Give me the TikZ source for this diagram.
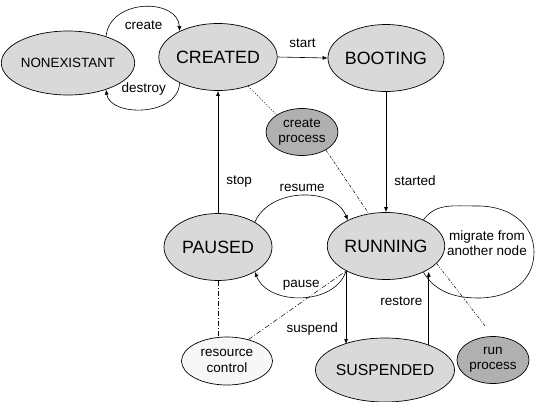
\documentclass[tikz,border=0pt]{standalone}
\usepackage{fontspec}
\setmainfont{Liberation Sans}
\usetikzlibrary{arrows.meta,shapes.geometric}
\definecolor{ink}{HTML}{000000}
\definecolor{statefill}{HTML}{D9D9D9}
\definecolor{procfill}{HTML}{B0B0B0}
\definecolor{ctrlfill}{HTML}{F7F7F7}

\begin{document}
\begin{tikzpicture}[
  x=1pt, y=-1pt,
  st/.style={ellipse, draw=ink, fill=statefill, line width=0.7pt, inner sep=0pt,
    minimum width=108pt, minimum height=67pt, font=\fontsize{17.8}{20}\selectfont},
  proc/.style={ellipse, draw=ink, fill=procfill, line width=0.7pt, inner sep=0pt,
    minimum width=72pt, minimum height=47pt, align=center, font=\fontsize{13.5}{15.5}\selectfont},
  ctrl/.style={proc, fill=ctrlfill, minimum width=91pt, minimum height=48pt},
  lbl/.style={inner sep=2pt, font=\fontsize{13.5}{15.5}\selectfont},
  trans/.style={draw=ink, line width=0.6pt, -{Latex[length=5pt,width=4pt]}},
  dotlink/.style={draw=ink, line width=0.5pt, dash pattern=on 1pt off 1.5pt},
  dashdot/.style={draw=ink, line width=0.5pt, dash pattern=on 5pt off 2pt on 1pt off 2pt},
  finedash/.style={draw=ink, line width=0.5pt, dash pattern=on 3pt off 1.5pt on 1pt off 1.5pt},
  dashdotdot/.style={draw=ink, line width=0.5pt, dash pattern=on 3pt off 1.5pt on 1pt off 1.5pt on 1pt off 1.5pt}
]
\useasboundingbox (0,0) rectangle (539,402);

% states
\node[st, minimum width=110pt, minimum height=64pt, font=\fontsize{13.4}{15}\selectfont] (nonex) at (68,63) {NONEXISTANT};
\node[st] (created) at (218,57) {CREATED};
\node[st] (booting) at (386,58) {BOOTING};
\node[st] (paused) at (218,247) {PAUSED};
\node[st] (running) at (386,246) {RUNNING};
\node[st, minimum width=106pt, minimum height=64pt, font=\fontsize{15.8}{18}\selectfont] (suspended) at (385,370) {SUSPENDED};

% actions
\node[proc] (createproc) at (302,132) {create\\process};
\node[proc] (runproc) at (493,360) {run\\process};
\node[ctrl] (rescontrol) at (227,361) {resource\\control};
\node[lbl, align=center] (migrate) at (487,243) {migrate from\\another node};

% transitions
\draw[trans] (nonex.35) .. controls (110,-2) and (178,-2) .. (created.146)
  node[lbl, midway, below=12pt] {create};
\draw[trans] (created.214) .. controls (178,117) and (110,117) .. (nonex.-35)
  node[lbl, midway, above=12pt] {destroy};
\draw[trans] (created.east) -- (booting.west) node[lbl, midway, above=8pt] {start};
\draw[trans] (booting.south) -- (running.north) node[lbl, pos=0.74, right=6pt] {started};
\draw[trans] (paused.north) -- (created.south) node[lbl, pos=0.26, right=6pt] {stop};
\draw[trans] (paused.34) .. controls (270,187) and (335,187) .. (running.146)
  node[lbl, midway, above=2pt] {resume};
\draw[trans] (running.212) .. controls (335,306) and (268,306) .. (paused.-34)
  node[lbl, midway, above=5pt] {pause};
\draw[trans] (running.212) -- (running.212 |- suspended.148) node[lbl, pos=0.8, left=6pt] {suspend};
\draw[trans] (suspended.30) -- (suspended.30 |- running.-34) node[lbl, pos=0.6, left=4pt] {restore};
\draw[draw=ink, line width=0.6pt] (running.35) .. controls (436,203) and (452,206) .. (478,206)
  .. controls (512,206) and (534,226) .. (534,252)
  .. controls (534,280) and (512,298) .. (478,298)
  .. controls (452,298) and (434,290) .. (running.-35);

% links to actions
\draw[dotlink] (created.-44) -- (createproc.146);
\draw[finedash] (createproc.-37) -- (running.118);
\draw[dashdot] (paused.south) -- (paused.south |- rescontrol.north);
\draw[dashdot] (rescontrol.45) -- (running.212);
\draw[dashdotdot, shorten >=12pt] (running.-19) -- (runproc.north);
\end{tikzpicture}
\end{document}
